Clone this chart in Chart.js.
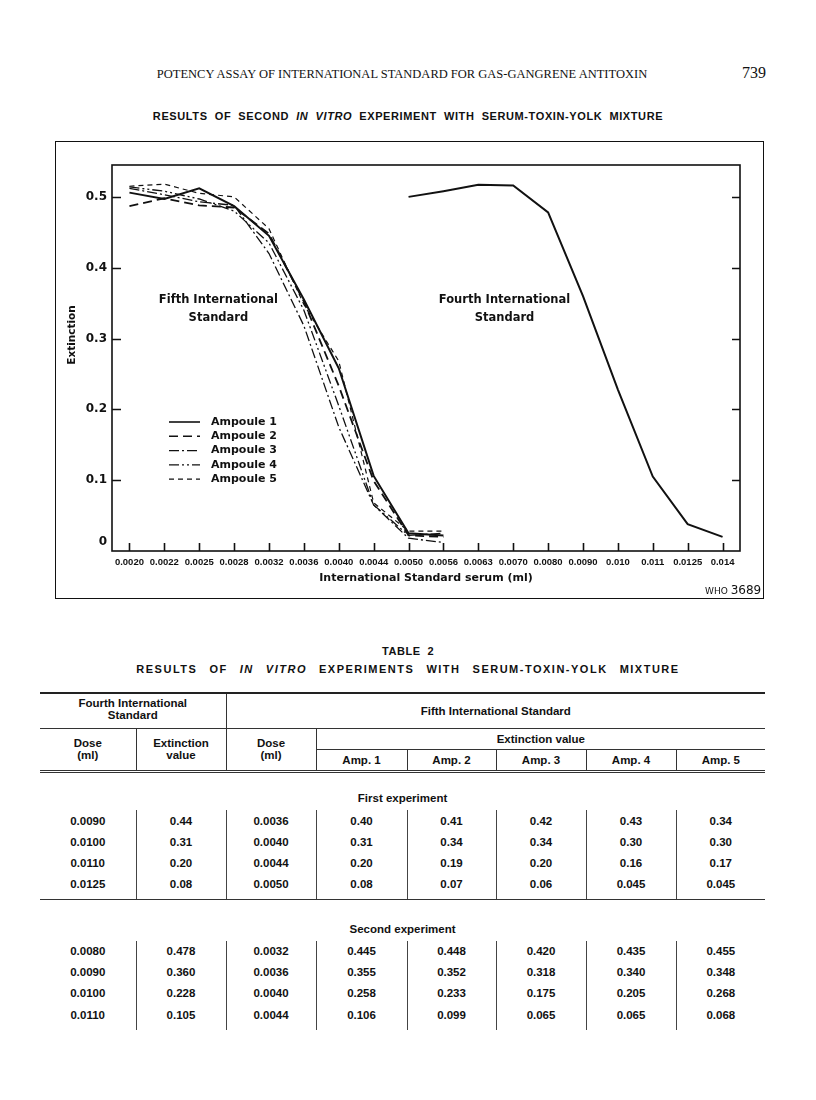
<!DOCTYPE html>
<html>
<head>
<meta charset="utf-8">
<script src="https://cdn.jsdelivr.net/npm/chart.js@4.4.0/dist/chart.umd.min.js"></script>
<style>
  body { margin: 0; background: #fff; }
  #page { position: relative; width: 816px; height: 1100px; color: #111; }
  .runhead { position: absolute; top: 67px; left: 0; width: 816px; font: 12.5px "Liberation Serif", serif; }
  .runhead .t { position: absolute; left: 102px; width: 600px; text-align: center; white-space: nowrap; }
  .runhead .p { position: absolute; left: 742px; top: -3px; font-size: 16px; }
  .ctitle { position: absolute; top: 110px; left: 0; width: 816px; text-align: center; font: bold 11px "Liberation Sans", Arial, sans-serif; letter-spacing: 0.6px; word-spacing: 3.5px; white-space: nowrap; }
  .frame { position: absolute; left: 55px; top: 141px; width: 707px; height: 456px; border: 1.5px solid #111; }
  .frame canvas { position: absolute; left: 0; top: 0; }
  .who { position: absolute; left: 705px; top: 583px; font: 9px "DejaVu Sans", sans-serif; }
  .who b { font-weight: normal; font-size: 12px; }
  .tcap { position: absolute; left: 0; width: 816px; text-align: center; font: bold 11px "Liberation Sans", Arial, sans-serif; letter-spacing: 1.5px; word-spacing: 7.5px; white-space: nowrap; }
  .tnum { letter-spacing: 0.6px; word-spacing: 3px; }
  table { position: absolute; left: 40px; top: 692px; width: 725px; border-collapse: collapse; table-layout: fixed;
          font: bold 11.5px "Liberation Sans", Arial, sans-serif; color: #111; }
  td { padding: 0; text-align: center; line-height: 12px; }
  .top td { border-top: 2px solid #222; }
  .hl { border-bottom: 1px solid #333; }
  .vl { border-left: 1px solid #333; }
  .dbl td { border-bottom: 3px double #333; }
  .sub td { vertical-align: bottom; }
  .data td { height: 21px; }
  .data td + td { border-left: 1px solid #444; }
</style>
</head>
<body>
<div id="page">
  <div class="runhead"><span class="t">POTENCY ASSAY OF INTERNATIONAL STANDARD FOR GAS-GANGRENE ANTITOXIN</span><span class="p">739</span></div>
  <div class="ctitle">RESULTS OF SECOND <i>IN VITRO</i> EXPERIMENT WITH SERUM-TOXIN-YOLK MIXTURE</div>
  <div class="frame"><canvas id="myChart" width="707" height="456"></canvas></div>
  <div class="who">WHO <b>3689</b></div>

  <div class="tcap tnum" style="top:645px">TABLE 2</div>
  <div class="tcap" style="top:663px">RESULTS OF <i>IN VITRO</i> EXPERIMENTS WITH SERUM-TOXIN-YOLK MIXTURE</div>
  <table id="tbl">
    <colgroup><col style="width:96px"><col style="width:90px"><col style="width:90px"><col style="width:91px"><col style="width:89px"><col style="width:90px"><col style="width:90px"><col style="width:89px"></colgroup>
    <tr class="top" style="height:35px"><td colspan="2" class="hl" style="padding-bottom:4px">Fourth International<br>Standard</td><td colspan="6" class="hl vl">Fifth International Standard</td></tr>
    <tr style="height:21px"><td rowspan="2" style="border-bottom:3px double #333">Dose<br>(ml)</td><td rowspan="2" class="vl" style="border-bottom:3px double #333">Extinction<br>value</td><td rowspan="2" class="vl" style="border-bottom:3px double #333">Dose<br>(ml)</td><td colspan="5" class="hl vl">Extinction value</td></tr>
    <tr class="dbl" style="height:22px"><td class="vl">Amp. 1</td><td class="vl">Amp. 2</td><td class="vl">Amp. 3</td><td class="vl">Amp. 4</td><td class="vl">Amp. 5</td></tr>
  </table>
</div>
<script>
// figure: extinction vs dose of International Standard serum (ml)
const doses = ['0.0020', '0.0022', '0.0025', '0.0028', '0.0032', '0.0036', '0.0040', '0.0044', '0.0050', '0.0056',
               '0.0063', '0.0070', '0.0080', '0.0090', '0.010', '0.011', '0.0125', '0.014'];
const ampLabels = ['Ampoule 1', 'Ampoule 2', 'Ampoule 3', 'Ampoule 4', 'Ampoule 5'];
// fifth international standard, 0.0020 .. 0.0056
const amp1 = [0.506, 0.497, 0.512, 0.487, 0.445, 0.355, 0.258, 0.106, 0.025, 0.022];
const amp2 = [0.487, 0.498, 0.488, 0.485, 0.448, 0.352, 0.233, 0.099, 0.022, 0.020];
const amp3 = [0.512, 0.503, 0.493, 0.488, 0.420, 0.318, 0.175, 0.065, 0.018, 0.012];
const amp4 = [0.514, 0.508, 0.497, 0.480, 0.435, 0.340, 0.205, 0.065, 0.022, 0.025];
const amp5 = [0.515, 0.518, 0.505, 0.500, 0.455, 0.348, 0.268, 0.068, 0.028, 0.028];
// fourth international standard, 0.0050 .. 0.014
const fourth = [null, null, null, null, null, null, null, null,
                0.500, 0.508, 0.517, 0.516, 0.478, 0.360, 0.228, 0.105, 0.038, 0.020];

// table 2
const fourthDose1 = ['0.0090', '0.0100', '0.0110', '0.0125'];
const fourthExt1 = ['0.44', '0.31', '0.20', '0.08'];
const fifthDose1 = ['0.0036', '0.0040', '0.0044', '0.0050'];
const ampExt1 = [
  ['0.40', '0.31', '0.20', '0.08'],
  ['0.41', '0.34', '0.19', '0.07'],
  ['0.42', '0.34', '0.20', '0.06'],
  ['0.43', '0.30', '0.16', '0.045'],
  ['0.34', '0.30', '0.17', '0.045']
];
const fourthDose2 = ['0.0080', '0.0090', '0.0100', '0.0110'];
const fourthExt2 = ['0.478', '0.360', '0.228', '0.105'];
const fifthDose2 = ['0.0032', '0.0036', '0.0040', '0.0044'];
const ampExt2 = [
  ['0.445', '0.355', '0.258', '0.106'],
  ['0.448', '0.352', '0.233', '0.099'],
  ['0.420', '0.318', '0.175', '0.065'],
  ['0.435', '0.340', '0.205', '0.065'],
  ['0.455', '0.348', '0.268', '0.068']
];

const tbl = document.getElementById('tbl');
function addBlock(title, d4, e4, d5, amps, subH, lastH, ruleBelow) {
  const s = tbl.insertRow();
  s.className = 'sub';
  s.style.height = subH + 'px';
  const c = s.insertCell();
  c.colSpan = 8;
  c.style.paddingBottom = '6px';
  c.textContent = title;
  for (let i = 0; i < d4.length; i++) {
    const r = tbl.insertRow();
    r.className = 'data';
    [d4[i], e4[i], d5[i], ...amps.map(a => a[i])].forEach(v => { r.insertCell().textContent = v; });
    if (i === d4.length - 1) {
      r.style.height = lastH + 'px';
      r.querySelectorAll('td').forEach(td => {
        td.style.verticalAlign = 'top';
        td.style.paddingTop = '5px';
        if (ruleBelow) td.style.borderBottom = '1.5px solid #333';
      });
    }
  }
}
addBlock('First experiment', fourthDose1, fourthExt1, fifthDose1, ampExt1, 39, 26, true);
addBlock('Second experiment', fourthDose2, fourthExt2, fifthDose2, ampExt2, 41, 24, false);

const ink = '#111';
const dashes = [[], [9, 5], [10, 3, 2, 3], [10, 3, 2, 3, 2, 3], [5, 4]];
const widths = [2, 1.8, 1.3, 1.3, 1.2];
const ampData = [amp1, amp2, amp3, amp4, amp5];

const datasets = ampData.map((d, i) => ({
  label: ampLabels[i],
  data: d,
  borderColor: ink,
  borderWidth: widths[i],
  borderDash: dashes[i],
  pointRadius: 0,
  tension: 0,
  fill: false
}));
datasets.push({
  label: 'Fourth International Standard',
  data: fourth,
  borderColor: ink,
  borderWidth: 2,
  pointRadius: 0,
  fill: false,
  spanGaps: false
});

// frame round the plot and tick marks pointing inwards
const frameTicks = {
  id: 'frameTicks',
  afterDatasetsDraw(chart) {
    const {ctx, chartArea: a, scales: {x, y}} = chart;
    ctx.save();
    ctx.strokeStyle = ink;
    ctx.lineWidth = 1.6;
    ctx.strokeRect(a.left, a.top, a.right - a.left, a.bottom - a.top);
    ctx.beginPath();
    y.ticks.forEach(t => {
      if (t.value === 0) return;
      const py = Math.round(y.getPixelForValue(t.value)) + 0.5;
      ctx.moveTo(a.left, py); ctx.lineTo(a.left + 9, py);
      ctx.moveTo(a.right, py); ctx.lineTo(a.right - 8, py);
    });
    x.ticks.forEach((t, i) => {
      const px = Math.round(x.getPixelForTick(i)) + 0.5;
      ctx.moveTo(px, a.bottom); ctx.lineTo(px, a.bottom - 8);
    });
    ctx.stroke();
    ctx.restore();
  }
};

// legend of line styles, axis title, the zero label and the two labels inside the plot
const notes = {
  id: 'notes',
  afterDraw(chart) {
    const {ctx, chartArea: a, scales: {x, y}} = chart;
    ctx.save();
    ctx.fillStyle = ink;
    ctx.strokeStyle = ink;
    ctx.font = 'bold 11px "DejaVu Sans"';
    ctx.textBaseline = 'middle';
    chart.data.datasets.slice(0, 5).forEach((ds, i) => {
      const ly = a.top + 257 + i * 14.3;
      ctx.lineWidth = Math.min(ds.borderWidth, 1.6);
      ctx.setLineDash(ds.borderDash);
      ctx.beginPath();
      ctx.moveTo(a.left + 57, ly); ctx.lineTo(a.left + 88, ly);
      ctx.stroke();
      ctx.setLineDash([]);
      ctx.textAlign = 'left';
      ctx.fillText(ds.label, a.left + 99, ly);
    });
    ctx.font = 'bold 11.5px "DejaVu Sans"';
    ctx.textAlign = 'center';
    const put = (lines, idx, v) => {
      const px = x.getPixelForValue(idx);
      const py = y.getPixelForValue(v);
      lines.forEach((s, k) => ctx.fillText(s, px, py + k * 18));
    };
    put(['Fifth International', 'Standard'], 2.55, 0.355);
    put(['Fourth International', 'Standard'], 10.75, 0.355);

    // "0" sits a little above the axis line
    ctx.font = 'bold 12px "DejaVu Sans"';
    ctx.textAlign = 'right';
    ctx.fillText('0', a.left - 5, y.getPixelForValue(0) - 9);

    // y title, set above the middle of the axis
    ctx.font = 'bold 10.5px "DejaVu Sans"';
    ctx.textAlign = 'center';
    ctx.translate(a.left - 40, y.getPixelForValue(0.305));
    ctx.rotate(-Math.PI / 2);
    ctx.fillText('Extinction', 0, 0);
    ctx.restore();
  }
};

Chart.defaults.font.family = '"DejaVu Sans", sans-serif';
Chart.defaults.color = ink;

const config = {
  type: 'line',
  data: { labels: doses, datasets: datasets },
  options: {
    responsive: false,
    animation: false,
    layout: { padding: { left: 6, right: 23, top: 23, bottom: 12 } },
    scales: {
      x: {
        type: 'category',
        offset: true,
        grid: { display: false, drawTicks: false },
        border: { display: false },
        ticks: { padding: 6, autoSkip: false, maxRotation: 0,
                 font: { family: '"Liberation Sans Narrow", sans-serif', weight: 'bold', size: 9.5 } },
        title: { display: true, text: 'International Standard serum (ml)', padding: { top: 0, bottom: 1 },
                 font: { size: 11, weight: 'bold' } },
        afterFit: s => { s.height = 35; }
      },
      y: {
        min: 0,
        max: 0.545,
        grid: { display: false, drawTicks: false },
        border: { display: false },
        ticks: { stepSize: 0.1, includeBounds: false, padding: 5, font: { size: 12, weight: 'bold' },
                 callback: v => (v === 0 ? '' : v) },
        afterFit: s => { s.width = 50; }
      }
    },
    plugins: {
      legend: { display: false },
      tooltip: { enabled: false }
    }
  },
  plugins: [frameTicks, notes]
};
let myChart = new Chart(document.getElementById('myChart'), config);
</script>
</body>
</html>
